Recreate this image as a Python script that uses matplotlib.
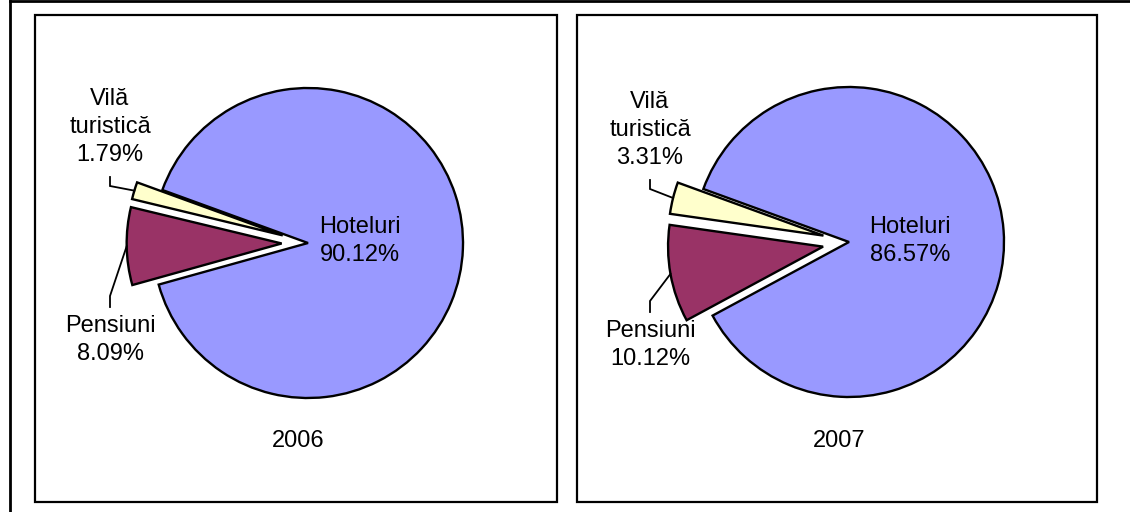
import numpy as np
import matplotlib.pyplot as plt
from matplotlib.patches import Rectangle
from matplotlib.lines import Line2D

plt.rcParams['font.family'] = ['Liberation Sans', 'DejaVu Sans']

# Structura capacitatii de cazare pe tipuri de unitati (%)
categories = ['Hoteluri', 'Pensiuni', 'Vilă turistică']
years = ['2006', '2007']
share_2006 = [90.12, 8.09, 1.79]
share_2007 = [86.57, 10.12, 3.31]
colors = ['#9999FF', '#993366', '#FFFFCC']
explode = [0, 0.17, 0.17]   # fraction of the radius

W, H = 1130, 512
R = 155
FS = 17
LS = 1.33

fig = plt.figure(figsize=(W / 100, H / 100), dpi=100)
ax = fig.add_axes([0, 0, 1, 1])


def Y(y):
    # pixel rows are counted from the top
    return H - y


def draw_panel(values, year, box, center, hot_xy, vila_xy, pens_xy, year_xy):
    x0, x1, top, bottom = box
    ax.add_patch(Rectangle((x0, Y(bottom)), x1 - x0, bottom - top,
                           fill=False, ec='black', lw=1.6, zorder=1))
    wedges, _ = ax.pie(values, colors=colors,
                       explode=[e * R for e in explode],
                       startangle=160, counterclock=False,
                       center=(center[0], Y(center[1])), radius=R,
                       wedgeprops=dict(edgecolor='black', linewidth=1.7),
                       frame=True)

    ax.text(hot_xy[0], Y(hot_xy[1]), f'{categories[0]}\n{values[0]:.2f}%',
            ha='center', va='center', fontsize=FS, linespacing=LS)
    ax.text(vila_xy[0], Y(vila_xy[1]),
            categories[2].replace(' ', '\n') + f'\n{values[2]:.2f}%',
            ha='center', va='center', fontsize=FS, linespacing=LS)
    ax.text(pens_xy[0], Y(pens_xy[1]), f'{categories[1]}\n{values[1]:.2f}%',
            ha='center', va='center', fontsize=FS, linespacing=LS)
    ax.text(year_xy[0], Y(year_xy[1]), year, ha='center', va='center',
            fontsize=FS)

    # leader lines from the middle of each outer arc to its label
    for w, lab, (d1, d2) in [(wedges[2], vila_xy, (50, 59)),
                             (wedges[1], pens_xy, (-33, -44))]:
        a = np.deg2rad((w.theta1 + w.theta2) / 2)
        ex = w.center[0] + w.r * np.cos(a)
        ey = w.center[1] + w.r * np.sin(a)
        ax.plot([lab[0], lab[0], ex], [Y(lab[1] + d1), Y(lab[1] + d2), ey],
                color='black', lw=1.3, solid_joinstyle='miter', zorder=3)


draw_panel(share_2006, years[0], (35, 557, 15, 502), (308, 243),
           (360, 241), (110, 127), (110, 340), (298, 441))
draw_panel(share_2007, years[1], (577, 1097, 15, 502), (849, 242),
           (910, 241), (650, 130), (650, 345), (839, 441))

ax.set_xlim(0, W)
ax.set_ylim(0, H)
ax.set_aspect('auto')
ax.axis('off')

# outer border of the sheet
fig.add_artist(Line2D([10 / W, 1], [Y(1) / H, Y(1) / H], color='black', lw=2))
fig.add_artist(Line2D([10 / W, 10 / W], [0, Y(1) / H], color='black', lw=2))

fig.savefig('out.png', dpi=100)
